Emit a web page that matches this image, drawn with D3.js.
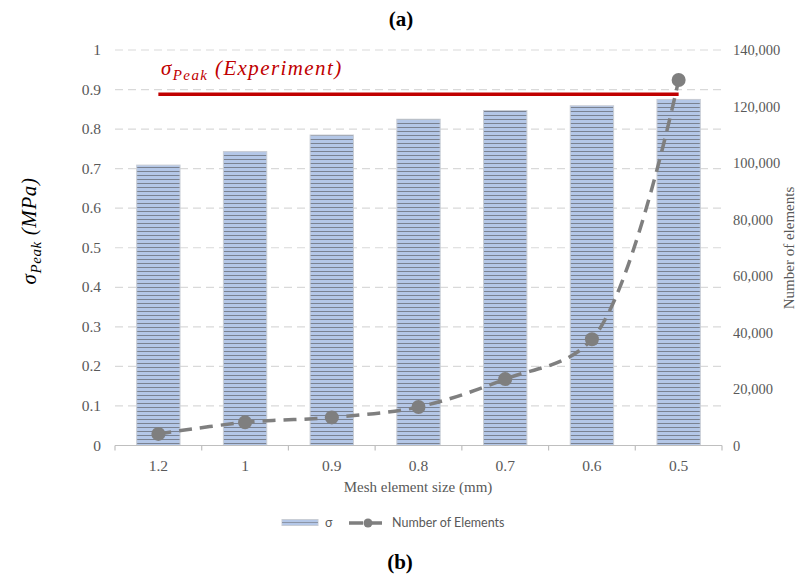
<!DOCTYPE html>
<html>
<head>
<meta charset="utf-8">
<script src="https://cdn.jsdelivr.net/npm/d3@7"></script>
<style>
  html, body { margin: 0; padding: 0; background: #fff; }
  svg { display: block; }
</style>
</head>
<body>
<svg id="chart" width="803" height="578"></svg>
<script>
// Mesh sensitivity: peak stress per mesh size, with element counts on a second axis
const meshSizes = ["1.2", "1", "0.9", "0.8", "0.7", "0.6", "0.5"];
const sigmaPeak = [0.709, 0.743, 0.785, 0.825, 0.847, 0.859, 0.875];
const elementCounts = [4100, 8200, 9950, 13650, 23500, 37600, 129400];
const sigmaExperiment = 0.888;
const leftTicks = [0, 0.1, 0.2, 0.3, 0.4, 0.5, 0.6, 0.7, 0.8, 0.9, 1];
const rightTicks = [0, 20000, 40000, 60000, 80000, 100000, 120000, 140000];

const svg = d3.select("#chart");
const serif = "'Liberation Serif', 'Times New Roman', serif";
const sans = "Lato, 'Open Sans', 'Liberation Sans', sans-serif";
const textGray = "#595959";

const plot = { left: 115, right: 722, top: 50, bottom: 445.5 };

const x = d3.scaleBand().domain(meshSizes).range([plot.left, plot.right]).paddingInner(0.5).paddingOuter(0.25);
const yL = d3.scaleLinear().domain([0, 1]).range([plot.bottom, plot.top]);
const yR = d3.scaleLinear().domain([0, 140000]).range([plot.bottom, plot.top]);

// Striped fill for the bars
const defs = svg.append("defs");
const pat = defs.append("pattern").attr("id", "stripes").attr("patternUnits", "userSpaceOnUse")
  .attr("width", 8).attr("height", 4);
pat.append("rect").attr("width", 8).attr("height", 4).attr("fill", "#b4c7e7");
pat.append("rect").attr("y", 3).attr("width", 8).attr("height", 1).attr("fill", "#7a8291");

// Panel labels
svg.append("text").attr("x", 401).attr("y", 26).attr("text-anchor", "middle")
  .attr("font-family", serif).attr("font-size", 21).attr("font-weight", "bold").attr("fill", "#000")
  .text("(a)");
svg.append("text").attr("x", 400).attr("y", 569).attr("text-anchor", "middle")
  .attr("font-family", serif).attr("font-size", 21).attr("font-weight", "bold").attr("fill", "#000")
  .text("(b)");

// Horizontal gridlines
svg.append("g").selectAll("line").data(leftTicks.filter(d => d > 0)).join("line")
  .attr("x1", plot.left).attr("x2", plot.right)
  .attr("y1", d => yL(d)).attr("y2", d => yL(d))
  .attr("stroke", "#d9d9d9").attr("stroke-width", 1.2).attr("stroke-dasharray", "8,5");

// Bars
svg.append("g").selectAll("rect").data(meshSizes).join("rect")
  .attr("x", d => x(d)).attr("width", x.bandwidth())
  .attr("y", (d, i) => yL(sigmaPeak[i]))
  .attr("height", (d, i) => yL(0) - yL(sigmaPeak[i]))
  .attr("fill", "url(#stripes)").attr("stroke", "#c9ced6").attr("stroke-width", 1);

// Category axis
const xAxisG = svg.append("g");
xAxisG.append("line").attr("x1", plot.left).attr("x2", plot.right)
  .attr("y1", plot.bottom).attr("y2", plot.bottom).attr("stroke", "#bfbfbf").attr("stroke-width", 1.2);
const boundaries = d3.range(meshSizes.length + 1).map(i => plot.left + i * (plot.right - plot.left) / meshSizes.length);
xAxisG.selectAll("line.tick").data(boundaries).join("line").attr("class", "tick")
  .attr("x1", d => d).attr("x2", d => d).attr("y1", plot.bottom).attr("y2", plot.bottom + 5)
  .attr("stroke", "#bfbfbf").attr("stroke-width", 1.2);
xAxisG.selectAll("text").data(meshSizes).join("text")
  .attr("x", d => x(d) + x.bandwidth() / 2).attr("y", 471)
  .attr("text-anchor", "middle").attr("font-family", serif).attr("font-size", 15.5).attr("fill", textGray)
  .text(d => d);

// Left axis labels
svg.append("g").selectAll("text").data(leftTicks).join("text")
  .attr("x", 101).attr("y", d => yL(d) + 5)
  .attr("text-anchor", "end").attr("font-family", serif).attr("font-size", 15.5).attr("fill", textGray)
  .text(d => d3.format("~g")(d));

// Right axis labels
svg.append("g").selectAll("text").data(rightTicks).join("text")
  .attr("x", 733).attr("y", d => yR(d) + 5)
  .attr("text-anchor", "start").attr("font-family", serif).attr("font-size", 14.5).attr("fill", textGray)
  .text(d => d3.format(",")(d));

// Axis titles
svg.append("text").attr("x", 418).attr("y", 492).attr("text-anchor", "middle")
  .attr("font-family", serif).attr("font-size", 15).attr("fill", textGray)
  .text("Mesh element size (mm)");
svg.append("text").attr("transform", "translate(794,248) rotate(-90)").attr("text-anchor", "middle")
  .attr("font-family", serif).attr("font-size", 15).attr("fill", textGray)
  .text("Number of elements");
svg.append("text").attr("transform", "translate(36,231) rotate(-90)").attr("text-anchor", "middle")
  .attr("font-family", serif).attr("font-size", 21).attr("font-style", "italic").attr("fill", "#000")
  .attr("letter-spacing", 0.6)
  .call(t => {
    t.append("tspan").text("σ");
    t.append("tspan").attr("font-size", 15).attr("dy", 5).text("Peak");
    t.append("tspan").attr("dy", -5).text(" (MPa)");
  });

// Experimental reference line
const firstC = x(meshSizes[0]) + x.bandwidth() / 2;
const lastC = x(meshSizes[meshSizes.length - 1]) + x.bandwidth() / 2;
svg.append("line").attr("x1", firstC).attr("x2", lastC)
  .attr("y1", yL(sigmaExperiment)).attr("y2", yL(sigmaExperiment))
  .attr("stroke", "#c00000").attr("stroke-width", 3.5);
svg.append("text").attr("x", 161).attr("y", 75)
  .attr("font-family", serif).attr("font-size", 21).attr("font-style", "italic").attr("fill", "#c00000")
  .attr("letter-spacing", 1.4)
  .call(t => {
    t.append("tspan").text("σ");
    t.append("tspan").attr("font-size", 15).attr("dy", 5).text("Peak");
    t.append("tspan").attr("dy", -5).text(" (Experiment)");
  });

// Element-count series (smoothed dashed line with markers)
const pts = meshSizes.map((d, i) => [x(d) + x.bandwidth() / 2, yR(elementCounts[i])]);
svg.append("path").datum(pts)
  .attr("d", d3.line().curve(d3.curveCatmullRom.alpha(0.5)))
  .attr("fill", "none").attr("stroke", "#7f7f7f").attr("stroke-width", 3.5)
  .attr("stroke-dasharray", "13,8");
svg.append("g").selectAll("circle").data(pts).join("circle")
  .attr("cx", d => d[0]).attr("cy", d => d[1]).attr("r", 7)
  .attr("fill", "#7f7f7f");

// Legend
const lg = svg.append("g");
lg.append("rect").attr("x", 282).attr("y", 519.5).attr("width", 36).attr("height", 6)
  .attr("fill", "#b4c7e7").attr("stroke", "#c9ced6");
lg.append("line").attr("x1", 282).attr("x2", 318).attr("y1", 522.5).attr("y2", 522.5)
  .attr("stroke", "#8c96a8").attr("stroke-width", 1);
lg.append("text").attr("x", 325).attr("y", 527).attr("font-family", sans).attr("font-size", 12.5)
  .attr("fill", textGray).text("σ");
lg.append("line").attr("x1", 349).attr("x2", 387).attr("y1", 523).attr("y2", 523)
  .attr("stroke", "#7f7f7f").attr("stroke-width", 3.5).attr("stroke-dasharray", "14,5");
lg.append("circle").attr("cx", 368).attr("cy", 523).attr("r", 4.5).attr("fill", "#7f7f7f");
lg.append("text").attr("x", 392).attr("y", 527).attr("font-family", sans).attr("font-size", 12.5)
  .attr("fill", textGray).text("Number of Elements");
</script>
</body>
</html>
